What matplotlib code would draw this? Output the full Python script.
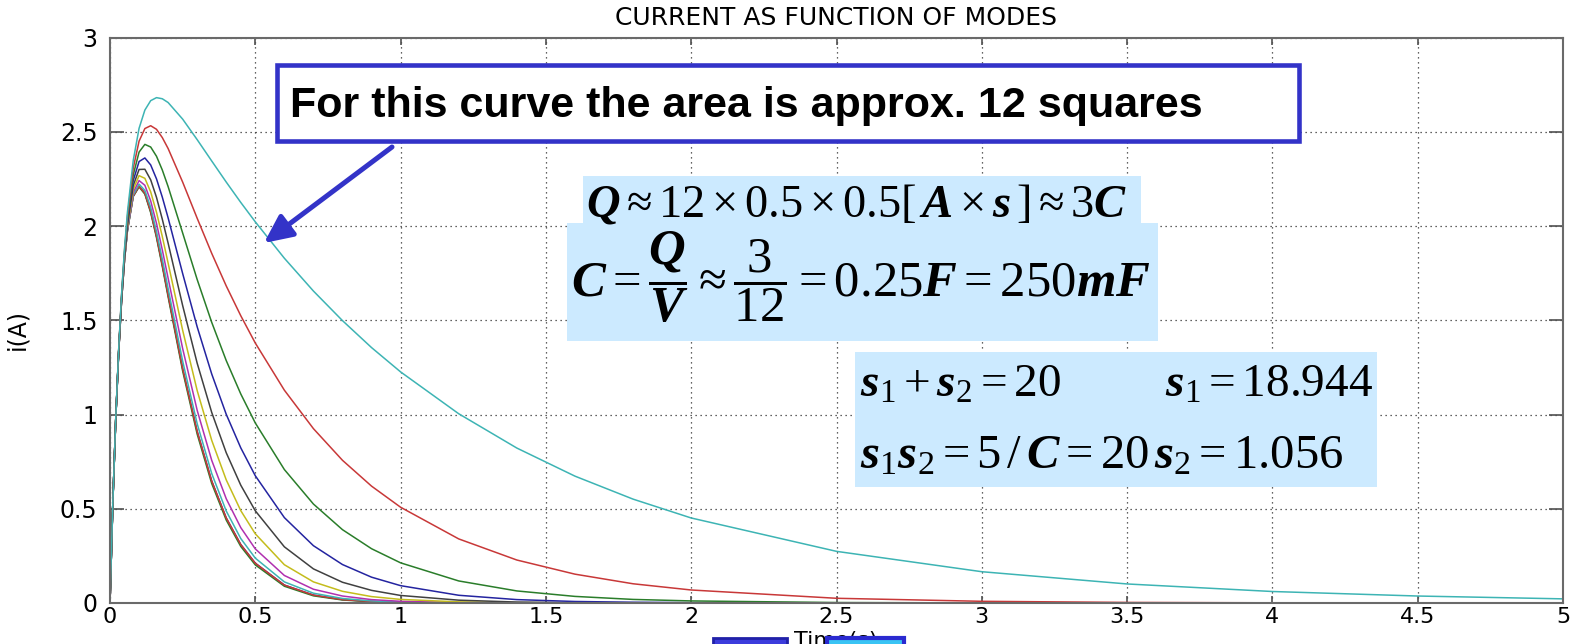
import matplotlib

matplotlib.use("Agg")

import matplotlib.pyplot as plt
from matplotlib.patches import FancyArrowPatch, Rectangle

# time axis shared by every mode (seconds)
time_s = [0, 0.01, 0.02, 0.03, 0.04, 0.05, 0.06, 0.08, 0.1, 0.12, 0.14, 0.16,
          0.18, 0.2, 0.25, 0.3, 0.35, 0.4, 0.45, 0.5, 0.6, 0.7, 0.8, 0.9, 1.0,
          1.2, 1.4, 1.6, 1.8, 2.0, 2.5, 3.0, 3.5, 4.0, 4.5, 5.0]

# current (A) for each mode, slowest decay first
current_k1 = [0, 0.544, 0.988, 1.350, 1.644, 1.882, 2.073, 2.348, 2.518, 2.615, 2.665, 2.681,
              2.675, 2.655, 2.567, 2.458, 2.345, 2.233, 2.125, 2.022, 1.829, 1.655, 1.498, 1.355, 1.226,
              1.004, 0.822, 0.673, 0.551, 0.451, 0.274, 0.166, 0.101, 0.061, 0.037, 0.022]
current_k2 = [0, 0.543, 0.987, 1.346, 1.636, 1.869, 2.052, 2.307, 2.450, 2.517, 2.532, 2.513,
              2.469, 2.411, 2.233, 2.041, 1.855, 1.682, 1.524, 1.379, 1.129, 0.925, 0.757, 0.620, 0.508,
              0.340, 0.228, 0.153, 0.102, 0.069, 0.025, 0.009, 0.003, 0.001, 0.0005, 0.0002]
current_k3 = [0, 0.543, 0.986, 1.343, 1.630, 1.857, 2.034, 2.271, 2.392, 2.433, 2.419, 2.370,
              2.297, 2.209, 1.963, 1.716, 1.489, 1.286, 1.109, 0.955, 0.708, 0.525, 0.389, 0.288, 0.213,
              0.117, 0.064, 0.035, 0.019, 0.011, 0.0024, 0.0005, 0.0001, 0, 0, 0]
current_k4 = [0, 0.543, 0.985, 1.341, 1.624, 1.847, 2.019, 2.241, 2.342, 2.361, 2.324, 2.250,
              2.153, 2.043, 1.748, 1.465, 1.215, 1.001, 0.823, 0.675, 0.453, 0.304, 0.204, 0.137, 0.092,
              0.041, 0.018, 0.008, 0.004, 0.002, 0.0002, 0, 0, 0, 0, 0]
current_k5 = [0, 0.543, 0.984, 1.338, 1.620, 1.839, 2.006, 2.215, 2.300, 2.301, 2.245, 2.152,
              2.036, 1.909, 1.578, 1.272, 1.011, 0.797, 0.625, 0.489, 0.298, 0.181, 0.110, 0.067, 0.040,
              0.015, 0.005, 0.002, 0.0007, 0.0003, 0, 0, 0, 0, 0, 0]
current_k6 = [0, 0.543, 0.984, 1.337, 1.616, 1.832, 1.995, 2.194, 2.267, 2.253, 2.181, 2.073,
              1.944, 1.803, 1.447, 1.127, 0.863, 0.653, 0.490, 0.367, 0.203, 0.112, 0.062, 0.034, 0.019,
              0.006, 0.002, 0.0005, 0.0002, 0, 0, 0, 0, 0, 0, 0]
current_k7 = [0, 0.543, 0.983, 1.335, 1.613, 1.826, 1.986, 2.178, 2.241, 2.216, 2.133, 2.014,
              1.873, 1.723, 1.350, 1.022, 0.757, 0.553, 0.400, 0.287, 0.146, 0.073, 0.037, 0.018, 0.009,
              0.002, 0.0006, 0.0001, 0, 0, 0, 0, 0, 0, 0, 0]
current_k8 = [0, 0.543, 0.983, 1.334, 1.611, 1.823, 1.980, 2.166, 2.222, 2.189, 2.099, 1.971,
              1.824, 1.668, 1.283, 0.951, 0.687, 0.488, 0.342, 0.238, 0.112, 0.052, 0.024, 0.011, 0.005,
              0.001, 0, 0, 0, 0, 0, 0, 0, 0, 0, 0]
current_k9 = [0, 0.543, 0.983, 1.334, 1.609, 1.820, 1.977, 2.159, 2.211, 2.174, 2.078, 1.947,
              1.795, 1.635, 1.244, 0.910, 0.647, 0.451, 0.310, 0.211, 0.095, 0.042, 0.018, 0.008, 0.003,
              0.0005, 0, 0, 0, 0, 0, 0, 0, 0, 0, 0]
current_k10 = [0, 0.543, 0.982, 1.333, 1.609, 1.820, 1.976, 2.157, 2.207, 2.169, 2.071, 1.938,
               1.785, 1.624, 1.231, 0.896, 0.634, 0.440, 0.300, 0.202, 0.089, 0.038, 0.016, 0.007, 0.003,
               0.0004, 0, 0, 0, 0, 0, 0, 0, 0, 0, 0]

x_ticks = [0, 0.5, 1, 1.5, 2, 2.5, 3, 3.5, 4, 4.5, 5]
x_tick_labels = ["0", "0.5", "1", "1.5", "2", "2.5", "3", "3.5", "4", "4.5", "5"]
y_ticks = [0, 0.5, 1, 1.5, 2, 2.5, 3]
y_tick_labels = ["0", "0.5", "1", "1.5", "2", "2.5", "3"]

# MATLAB-ish colour cycle, drawn fastest mode first so the slow ones sit on top
BLUE, GREEN, RED, CYAN = "#2424a0", "#2a7d2a", "#c83838", "#3db4b4"
MAGENTA, YELLOW, BLACK = "#b030b0", "#c4bc1c", "#404040"
curves = [
    (current_k9, BLUE), (current_k10, GREEN), (current_k9, RED), (current_k8, CYAN),
    (current_k7, MAGENTA), (current_k6, YELLOW), (current_k5, BLACK), (current_k4, BLUE),
    (current_k3, GREEN), (current_k2, RED), (current_k1, CYAN),
]

W, H = 1579, 644
NOTE_BLUE = "#3333c8"
NOTE_FILL = "#cceaff"

plt.rcParams.update({
    "font.family": ["DejaVu Sans"],
    "mathtext.fontset": "custom",
    "mathtext.rm": "Liberation Serif",
    "mathtext.it": "Liberation Serif:italic",
    "mathtext.bf": "Liberation Serif:bold:italic",
})


def fxy(x, y):
    """pixel position (from top-left) -> figure fraction"""
    return x / W, 1 - y / H


def add_box(x0, y0, x1, y1, face, edge=None, lw=0.0, z=5):
    fig.add_artist(Rectangle(fxy(x0, y1), (x1 - x0) / W, (y1 - y0) / H,
                             transform=fig.transFigure, facecolor=face,
                             edgecolor=edge if edge else face, linewidth=lw, zorder=z))


fig = plt.figure(figsize=(W / 100, H / 100), dpi=100)
ax = fig.add_axes([110 / W, 1 - 603 / H, (1563 - 110) / W, (603 - 37.5) / H])

for series, color in curves:
    ax.plot(time_s, series, color=color, lw=1.1)

ax.set_xlim(0, 5)
ax.set_ylim(0, 3)
ax.set_xticks(x_ticks)
ax.set_xticklabels(x_tick_labels)
ax.set_yticks(y_ticks)
ax.set_yticklabels(y_tick_labels)
ax.grid(True, linestyle=(0, (1, 3)), color="#303030", lw=0.9)
ax.tick_params(direction="in", top=True, right=True, color="#505050", width=1.2)
ax.tick_params(axis="x", length=5, pad=3, labelsize=16)
ax.tick_params(axis="y", length=10, pad=9, labelsize=17)
for spine in ax.spines.values():
    spine.set_color("#6a6a6a")
    spine.set_linewidth(1.5)

fig.text(*fxy(836, 18), "CURRENT AS FUNCTION OF MODES", ha="center", va="center", fontsize=18)
fig.text(*fxy(17, 330), "i(A)", rotation=90, ha="center", va="center", fontsize=17)
fig.text(*fxy(836, 631), "Time(s)", ha="center", va="top", fontsize=16, zorder=4)

# annotation box and arrow
add_box(277, 65, 1299, 140.5, "white", NOTE_BLUE, lw=3.3)
fig.text(*fxy(290, 116.7), "For this curve the area is approx. 12 squares",
         family="Liberation Sans", weight="bold", fontsize=31, va="baseline", zorder=6)
fig.add_artist(FancyArrowPatch(fxy(392, 147), fxy(264, 243), transform=fig.transFigure,
                               arrowstyle="-|>,head_length=17,head_width=8", mutation_scale=1,
                               lw=3.6, color=NOTE_BLUE, shrinkA=0, shrinkB=0, zorder=6))

# formula panels
add_box(583, 176, 1141, 223, NOTE_FILL)
add_box(567, 223, 1158, 341, NOTE_FILL)
add_box(855, 352, 1377, 487, NOTE_FILL)
fig.text(*fxy(586, 216.7), r"$\mathbf{Q}\approx 12\times 0.5\times 0.5[\,\mathbf{A}\times\mathbf{s}\,]\approx 3\mathbf{C}$",
         fontsize=33.5, va="baseline", zorder=6)
fig.text(*fxy(571, 297),
         r"$\mathbf{C}=\dfrac{\mathbf{Q}}{\mathbf{V}}\approx\dfrac{3}{12}=0.25\mathbf{F}=250\mathbf{mF}$",
         fontsize=36.5, va="baseline", zorder=6)
fig.text(*fxy(860, 397), r"$\mathbf{s}_1+\mathbf{s}_2=20$", fontsize=34, va="baseline", zorder=6)
fig.text(*fxy(1165, 397), r"$\mathbf{s}_1=18.944$", fontsize=34, va="baseline", zorder=6)
fig.text(*fxy(860, 468), r"$\mathbf{s}_1\mathbf{s}_2=5\,/\,\mathbf{C}=20\,\mathbf{s}_2=1.056$",
         fontsize=35, va="baseline", zorder=6)

# slide buttons peeking in at the bottom edge
add_box(713, 638, 787, 670, "#3c3cdc", "#2020a8", lw=2)
add_box(827, 638, 904, 670, "#3ac4f4", "#2a2ad0", lw=3)

fig.savefig("out.png", dpi=100)
